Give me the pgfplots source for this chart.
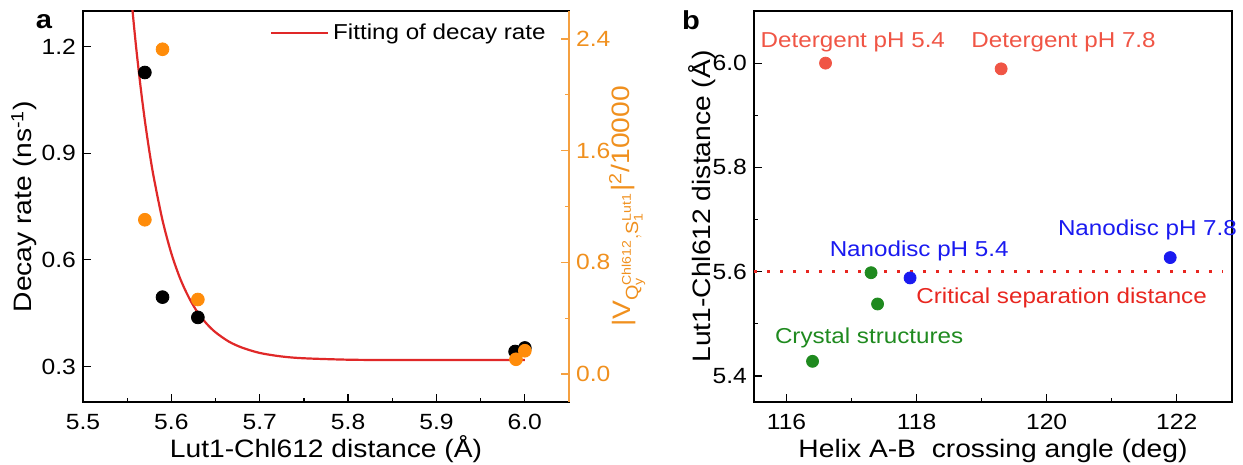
\documentclass[border=0pt]{standalone}
\usepackage{fontspec}
\setmainfont[FakeStretch=1.12]{Liberation Sans}
\usepackage{amsmath}
\usepackage{pgfplots}
\pgfplotsset{compat=1.18}

\definecolor{fitred}{HTML}{E02828}
\definecolor{dotorange}{HTML}{FF8C0A}
\definecolor{axorange}{HTML}{F5A040}
\definecolor{txtorange}{HTML}{F0901E}
\definecolor{detred}{HTML}{F05545}
\definecolor{nanoblue}{HTML}{1A1AF0}
\definecolor{critred}{HTML}{E8261F}
\definecolor{crysgreen}{HTML}{1F8A1F}

\newcommand{\lblfont}{\fontsize{12.6}{15}\selectfont}
\newcommand{\annfont}{\fontsize{10.8}{13}\selectfont}

\pgfplotsset{
  panel/.style={
    scale only axis,
    height=195.5pt,
    tick align=inside,
    tick label style={font=\fontsize{11}{13}\selectfont},
    xticklabel style={yshift=-2.5pt},
    /pgf/number format/assume math mode=true,
    axis line style={line width=0.8pt},
    major tick length=4pt, minor tick length=2.2pt,
    every tick/.style={black, line width=0.6pt},
    xlabel style={font=\lblfont, at={(axis description cs:0.5,-0.141)}, anchor=base},
  },
  onedec/.style={/pgf/number format/fixed, /pgf/number format/fixed zerofill,
    /pgf/number format/precision=1},
}

\begin{document}
\begin{tikzpicture}
% ---- panel a, left axis (decay rate)
\begin{axis}[panel, width=243pt, at={(0,0)}, anchor=south west,
  xmin=5.5, xmax=6.05, ymin=0.2, ymax=1.3,
  xtick={5.5,5.6,5.7,5.8,5.9,6.0}, minor x tick num=1,
  ytick={0.3,0.6,0.9,1.2},
  xtick pos=bottom, ytick pos=left,
  xticklabel style={onedec}, yticklabel style={onedec},
  xlabel={Lut1-Chl612 distance (Å)},
  ylabel={Decay rate (ns\textsuperscript{-1})},
  ylabel style={font=\lblfont, at={(axis description cs:-0.105,0.5)}, anchor=base},
  legend style={draw=none, fill=none, at={(rel axis cs:0.961,0.944)}, anchor=east,
    font=\fontsize{10.8}{13}\selectfont, inner sep=0pt},
  legend image code/.code={\draw[#1] (0pt,0pt) -- (28.5pt,0pt);},
]
\addplot[fitred, line width=1.1pt, smooth] coordinates {
  (5.550,1.475) (5.555,1.329) (5.560,1.201) (5.565,1.090) (5.570,0.992)
  (5.575,0.907) (5.580,0.833) (5.590,0.711) (5.600,0.618) (5.610,0.547)
  (5.620,0.493) (5.630,0.451) (5.640,0.420) (5.650,0.396) (5.665,0.370)
  (5.680,0.353) (5.700,0.338) (5.725,0.328) (5.750,0.323) (5.800,0.319)
  (5.850,0.318) (5.900,0.318) (6.000,0.318)
};
\addlegendentry{Fitting of decay rate}
\addplot[only marks, mark=*, mark size=3.2pt, black, forget plot] coordinates {
  (5.57,1.127) (5.59,0.495) (5.63,0.438) (5.989,0.342) (6.0,0.352)
};
\end{axis}
% ---- panel a, right axis (coupling)
\begin{axis}[panel, width=243pt, at={(0,0)}, anchor=south west,
  xmin=5.5, xmax=6.05, ymin=-0.2, ymax=2.6,
  axis x line=none, axis y line*=right,
  y axis line style={axorange, line width=0.8pt, -},
  every tick/.style={axorange, line width=0.6pt},
  ytick={0,0.8,1.6,2.4}, minor y tick num=1,
  yticklabel style={onedec, text=txtorange},
  ylabel={\text{|V}$_{\text{Q}^{\text{Chl612}}_{\text{y}},\text{S}^{\text{Lut1}}_{\text{1}}}$\text{|}$^{\text{2}}$/10000},
  ylabel style={font=\lblfont, text=txtorange, at={(axis description cs:1.1255,0.5)}, anchor=base},
]
\addplot[only marks, mark=*, mark size=3.2pt, dotorange] coordinates {
  (5.59,2.326) (5.57,1.105) (5.63,0.534) (5.99,0.106) (6.0,0.167)
};
\end{axis}
% ---- panel b
\begin{axis}[panel, width=239pt, at={(335.5pt,0)}, anchor=south west,
  xmin=115.5, xmax=122.85, ymin=5.35, ymax=6.1,
  clip mode=individual,
  xtick={116,118,120,122}, minor x tick num=1,
  ytick={5.4,5.6,5.8,6.0}, minor y tick num=1,
  xtick pos=bottom, ytick pos=left,
  yticklabel style={onedec},
  xlabel={Helix A-B\ \ crossing angle (deg)},
  ylabel={Lut1-Chl612 distance (Å)},
  ylabel style={font=\lblfont, at={(axis description cs:-0.092,0.5)}, anchor=base},
]
\addplot[critred, line width=1.5pt, dash pattern=on 1.5pt off 5pt] coordinates {
  (115.5,5.6) (122.7,5.6)
};
\addplot[only marks, mark=*, mark size=3pt, detred] coordinates {
  (116.6,6.0) (119.3,5.989)
};
\addplot[only marks, mark=*, mark size=3pt, nanoblue] coordinates {
  (117.9,5.588) (121.9,5.627)
};
\addplot[only marks, mark=*, mark size=3pt, crysgreen] coordinates {
  (117.3,5.598) (117.4,5.538) (116.4,5.428)
};
\node[detred, font=\annfont] at (axis cs:117.02,6.04) {Detergent pH 5.4};
\node[detred, font=\annfont] at (axis cs:120.26,6.04) {Detergent pH 7.8};
\node[nanoblue, font=\annfont] at (axis cs:121.55,5.681) {Nanodisc pH 7.8};
\node[nanoblue, font=\annfont] at (axis cs:118.04,5.64) {Nanodisc pH 5.4};
\node[critred, font=\annfont] at (axis cs:120.23,5.549) {Critical separation distance};
\node[crysgreen, font=\annfont] at (axis cs:117.27,5.472) {Crystal structures};
\end{axis}
\node[font=\bfseries\fontsize{13}{15}\selectfont] at (-19.5pt,190pt) {a};
\node[font=\bfseries\fontsize{13}{15}\selectfont] at (304pt,191pt) {b};
\pgfresetboundingbox
\path (-41.5pt,-31.5pt) rectangle (580pt,201pt);
\end{tikzpicture}
\end{document}
